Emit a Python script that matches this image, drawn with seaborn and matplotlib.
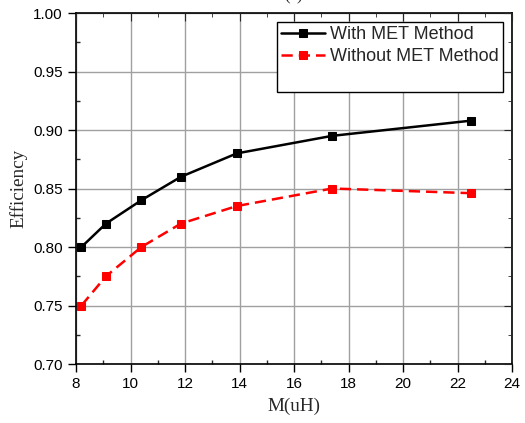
import matplotlib
matplotlib.use("Agg")
import matplotlib.pyplot as plt
import seaborn as sns
import pandas as pd
from matplotlib.ticker import MultipleLocator
from matplotlib.lines import Line2D

m_uh = [8.2, 9.1, 10.4, 11.85, 13.9, 17.4, 22.5]
with_met = [0.800, 0.820, 0.840, 0.860, 0.880, 0.895, 0.908]
without_met = [0.750, 0.775, 0.800, 0.820, 0.835, 0.850, 0.846]
series_names = ["With MET Method", "Without MET Method"]
x_ticks = [8, 10, 12, 14, 16, 18, 20, 22, 24]
y_ticks = [0.70, 0.75, 0.80, 0.85, 0.90, 0.95, 1.00]

sns.set_style("white")
plt.rcParams["font.family"] = ["Liberation Sans", "DejaVu Sans"]

fig = plt.figure(figsize=(5.25, 4.23), dpi=100)
ax = fig.add_axes([76/525, 1-364/423, (512-76)/525, (364-13)/423])

df1 = pd.DataFrame({"M": m_uh, "Eff": with_met})
df2 = pd.DataFrame({"M": m_uh, "Eff": without_met})
sns.lineplot(data=df1, x="M", y="Eff", ax=ax, color="black", marker="s",
             markersize=6, markeredgecolor="black", linewidth=1.8,
             label=series_names[0], zorder=3)
sns.lineplot(data=df2, x="M", y="Eff", ax=ax, color="red", marker="s",
             markersize=6, markeredgecolor="red", linewidth=1.8,
             dashes=(4.5, 2.4), label=series_names[1], zorder=3)

ax.set_xlim(8, 24)
ax.set_ylim(0.70, 1.00)
ax.set_xticks(x_ticks)
ax.set_yticks(y_ticks)
ax.set_yticklabels([f"{v:.2f}" for v in y_ticks])
ax.xaxis.set_minor_locator(MultipleLocator(1))
ax.yaxis.set_minor_locator(MultipleLocator(0.025))
ax.grid(True, which="major", color="#a0a0a0", linewidth=1.0)
ax.set_axisbelow(True)
for s in ax.spines.values():
    s.set_color("black")
    s.set_linewidth(1.2)
ax.tick_params(axis="both", which="major", direction="out", length=6, width=1.0,
               labelsize=11, colors="black", top=False, right=False)
ax.tick_params(axis="both", which="minor", direction="in", length=3, width=1.0,
               top=False, right=False, left=True, bottom=True)
ax.tick_params(which="both", bottom=True, left=True)

ax2 = ax.twinx()
ax2.set_ylim(ax.get_ylim())
ax2.set_yticks(y_ticks)
ax2.yaxis.set_minor_locator(MultipleLocator(0.025))
ax2.tick_params(axis="y", which="major", direction="in", length=6, labelright=False)
ax2.tick_params(axis="y", which="minor", direction="in", length=3)
ax3 = ax.twiny()
ax3.set_xlim(ax.get_xlim())
ax3.set_xticks(x_ticks)
ax3.xaxis.set_minor_locator(MultipleLocator(1))
ax3.tick_params(axis="x", which="major", direction="in", length=6, labeltop=False)
ax3.tick_params(axis="x", which="minor", direction="in", length=3)
for a in (ax2, ax3):
    for s in a.spines.values():
        s.set_visible(False)

ax.set_xlabel("M(uH)", fontsize=13.8, family=["Liberation Serif", "DejaVu Serif"], labelpad=5)
ax.set_ylabel("Efficiency", fontsize=13.8, family=["Liberation Serif", "DejaVu Serif"], labelpad=4)

handles, labels = ax.get_legend_handles_labels()
handles = handles + [Line2D([], [], color="none")]
labels = labels + [" "]
leg = ax.legend(handles, labels, loc="upper right", bbox_to_anchor=(0.98, 0.975),
                fontsize=13, frameon=True, fancybox=False, framealpha=1,
                edgecolor="black", borderpad=0.25, labelspacing=0.28,
                handlelength=2.4, handletextpad=0.3, borderaxespad=0)
leg.get_frame().set_linewidth(1.0)
leg.set_zorder(10)

fig.text(294/525, 1 + 4/423, "(a)", ha="center", va="center", fontsize=12,
         family=["Liberation Serif", "DejaVu Serif"])

fig.savefig("out.png", dpi=100)
